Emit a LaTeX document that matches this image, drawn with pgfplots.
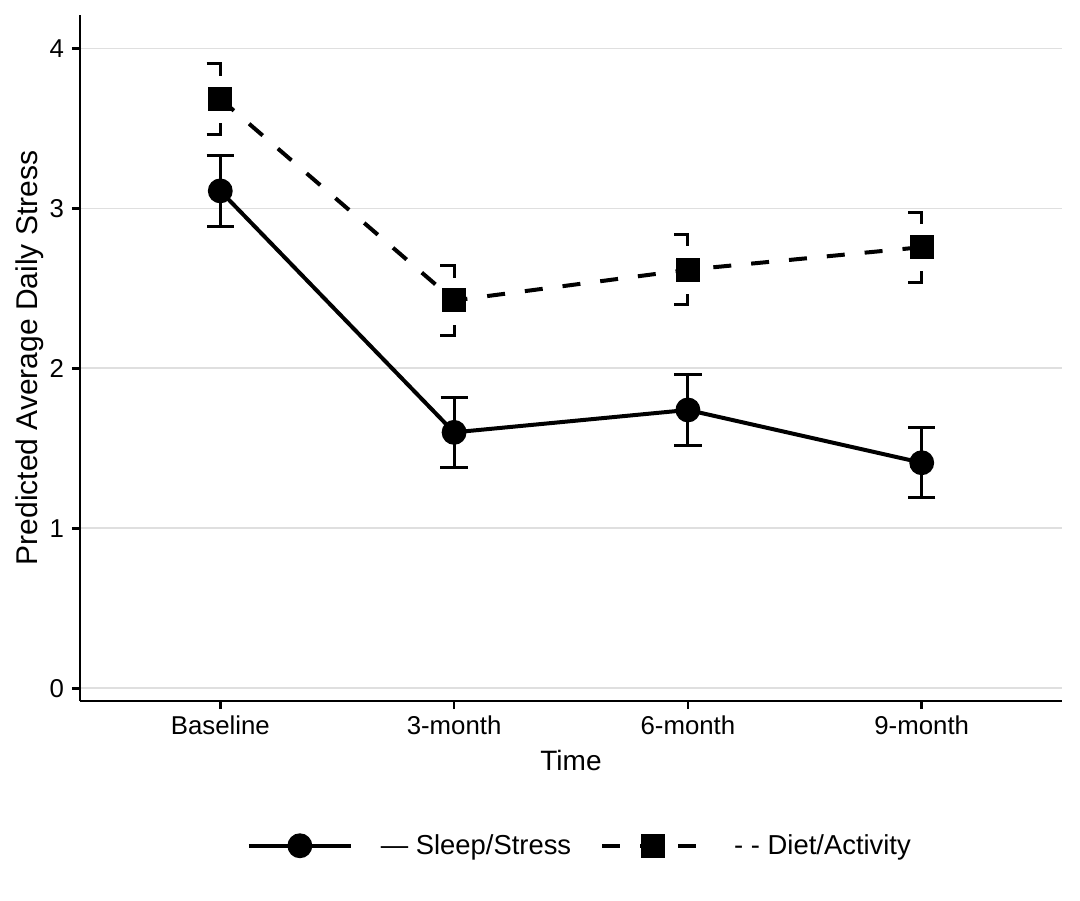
\documentclass[border=0pt]{standalone}
\usepackage{fontspec}
\setmainfont{Liberation Sans}
\usepackage{pgfplots}
\pgfplotsset{compat=1.18}
\pgfdeclareplotmark{captop}{%
  \pgfpathmoveto{\pgfqpoint{-6.8pt}{0pt}}%
  \pgfpathlineto{\pgfqpoint{0pt}{0pt}}%
  \pgfpathlineto{\pgfqpoint{0pt}{-6.2pt}}%
  \pgfusepathqstroke}
\pgfdeclareplotmark{capbot}{%
  \pgfpathmoveto{\pgfqpoint{-6.8pt}{0pt}}%
  \pgfpathlineto{\pgfqpoint{0pt}{0pt}}%
  \pgfpathlineto{\pgfqpoint{0pt}{5.5pt}}%
  \pgfusepathqstroke}
\begin{document}
\begin{tikzpicture}
\path[use as bounding box] (0,0) rectangle (540pt,450pt);
\begin{axis}[
  at={(40pt,99.5pt)}, anchor=south west,
  scale only axis, width=491pt, height=343pt,
  xmin=-0.6, xmax=3.6, ymin=-0.08, ymax=4.21,
  axis x line*=bottom, axis y line*=left,
  axis line style={-, line width=1.3pt, black},
  tick align=outside, major tick length=4pt,
  tick style={line width=1.3pt, black},
  xtick={0,1,2,3}, xticklabels={Baseline,3-month,6-month,9-month},
  ytick={0,1,2,3,4},
  ymajorgrids, grid style={gray!25, line width=0.9pt},
  /pgf/number format/assume math mode=true,
  ticklabel style={font=\fontsize{12.9}{15}\selectfont},
  yticklabel style={xshift=-0.5pt},
  xlabel={Time}, ylabel={Predicted Average Daily Stress},
  label style={font=\fontsize{14}{16}\selectfont},
  xlabel style={at={(axis description cs:0.5,-0.086)}, anchor=center},
  ylabel style={at={(axis description cs:-0.051,0.5)}, anchor=center, font=\fontsize{15}{17}\selectfont},
  legend style={at={(0.508,-0.211)}, anchor=center, draw=none,
    font=\fontsize{13.7}{16}\selectfont,
    nodes={inner sep=0pt},
    /tikz/every odd column/.append style={column sep=14pt},
    /tikz/every even column/.append style={column sep=14.5pt}},
  legend columns=2,
  legend image code/.code={\draw[mark repeat=2,mark phase=2,#1] plot coordinates {(0pt,0pt) (25.5pt,0pt) (51pt,0pt)};},
]
% Sleep/Stress
\addplot[black, line width=2pt, mark=*, mark size=5.2pt, mark options={solid},
  error bars/.cd, y dir=both, y explicit,
  error bar style={line width=1.5pt, solid},
  error mark options={line width=1.5pt, mark size=6.8pt, rotate=90}]
  coordinates {
  (0,3.11) +- (0,0.22)
  (1,1.60) +- (0,0.22)
  (2,1.74) +- (0,0.22)
  (3,1.41) +- (0,0.22)
};
\addlegendentry{— Sleep/Stress}
% Diet/Activity
\addplot[black, line width=2pt, dash pattern=on 9pt off 10pt, mark=square*, mark size=5pt, mark options={solid}]
  coordinates {
  (0,3.685)
  (1,2.425)
  (2,2.617)
  (3,2.758)
};
\addlegendentry{- - Diet/Activity}
% Diet/Activity error bar ends (upper)
\addplot[forget plot, only marks, black, mark=captop, mark options={solid, line width=1.5pt, line join=miter, line cap=butt}]
  coordinates {
  (0,3.905)
  (1,2.645)
  (2,2.840)
  (3,2.978)
};
% Diet/Activity error bar ends (lower)
\addplot[forget plot, only marks, black, mark=capbot, mark options={solid, line width=1.5pt, line join=miter, line cap=butt}]
  coordinates {
  (0,3.465)
  (1,2.205)
  (2,2.397)
  (3,2.538)
};
\end{axis}
\end{tikzpicture}
\end{document}
